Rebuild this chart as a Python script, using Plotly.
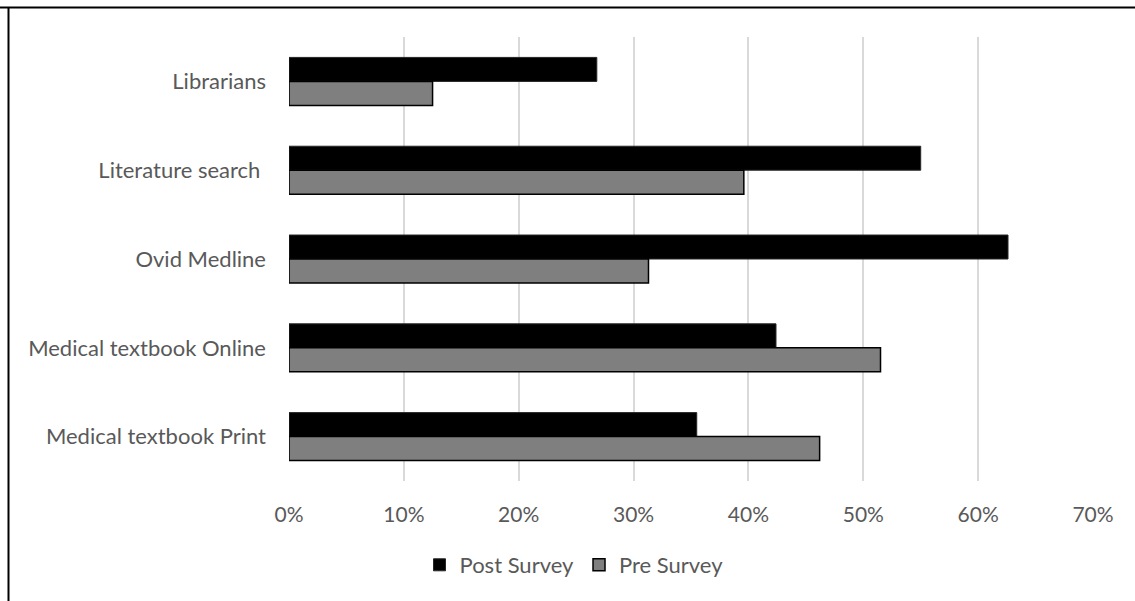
import plotly.graph_objects as go

categories = ["Librarians", "Literature search\u00a0", "Ovid Medline",
              "Medical textbook Online", "Medical textbook Print"]
post_survey = [0.268, 0.550, 0.626, 0.424, 0.355]
pre_survey = [0.125, 0.396, 0.313, 0.515, 0.462]
x_ticks = [0, 0.1, 0.2, 0.3, 0.4, 0.5, 0.6, 0.7]

W, H = 1135, 601
ML, MR, MT, MB = 289, 42, 37, 120
pw, ph = W - ML - MR, H - MT - MB

font_family = "Lato, 'Noto Sans', sans-serif"
txt = "#595959"
fs = 22

fig = go.Figure()
fig.add_trace(go.Bar(
    y=categories, x=post_survey, name="Post Survey", orientation="h",
    marker=dict(color="#000000", line=dict(color="#262626", width=1)),
))
fig.add_trace(go.Bar(
    y=categories, x=pre_survey, name="Pre Survey", orientation="h",
    marker=dict(color="#7f7f7f", line=dict(color="#000000", width=1.5)),
))

def px_x(x):
    return (x - ML) / pw

def px_y(y):
    return (H - MB - y) / ph

fig.update_layout(
    width=W, height=H,
    margin=dict(l=ML, r=MR, t=MT, b=MB),
    paper_bgcolor="white", plot_bgcolor="white",
    barmode="group", bargap=0.46, bargroupgap=0,
    font=dict(family=font_family, size=fs, color=txt),
    showlegend=True,
    legend=dict(orientation="h", x=px_x(574), y=px_y(565), xanchor="center",
                yanchor="middle", font=dict(size=fs, color=txt),
                itemwidth=30, traceorder="normal"),
    xaxis=dict(range=[0, 0.7], tickvals=x_ticks, tickformat=".0%",
               showgrid=True, gridcolor="#d9d9d9", gridwidth=1.5,
               zeroline=False, showline=False, ticks="",
               ticklabelstandoff=19, tickfont=dict(size=21, color=txt)),
    yaxis=dict(autorange="reversed", showgrid=False, zeroline=False,
               showline=False, ticks="", ticklabelstandoff=22,
               tickfont=dict(size=fs, color=txt)),
    shapes=[
        dict(type="line", xref="paper", yref="paper",
             x0=px_x(0), x1=px_x(W), y0=px_y(7.5), y1=px_y(7.5),
             line=dict(color="black", width=2)),
        dict(type="line", xref="paper", yref="paper",
             x0=px_x(8.5), x1=px_x(8.5), y0=px_y(7.5), y1=px_y(H + 5),
             line=dict(color="black", width=2)),
    ],
)

fig.write_html("out.html")
